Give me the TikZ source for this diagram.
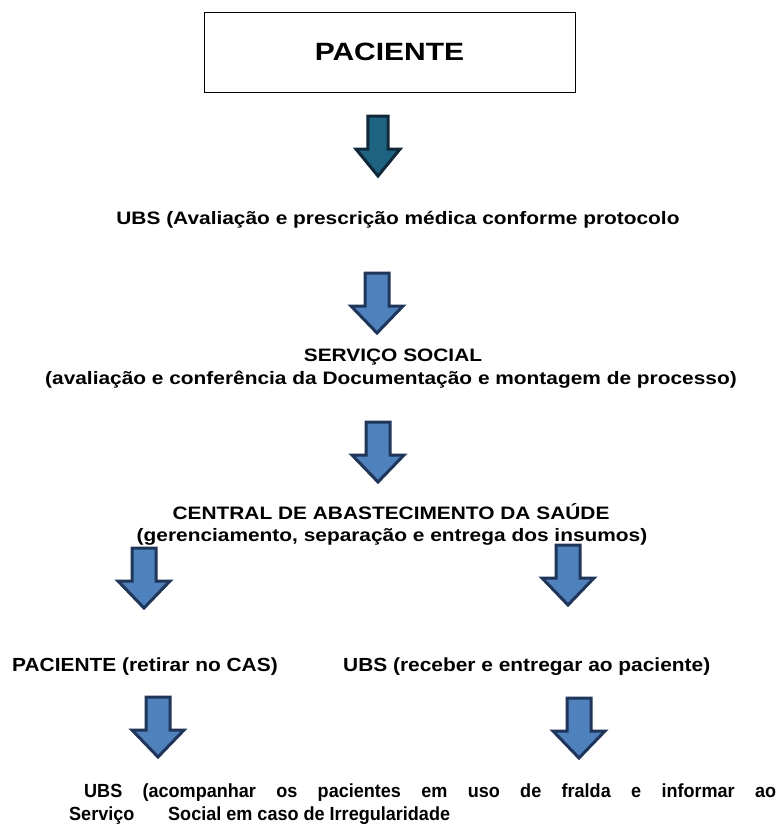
\documentclass[tikz,border=0pt]{standalone}
\usepackage{fontspec}
\setmainfont{Liberation Sans}
\newfontfamily\topf[FakeStretch=1.16]{Liberation Sans Bold}
\newfontfamily\titf[FakeStretch=1.2]{Liberation Sans Bold}
\newfontfamily\midf[FakeStretch=1.1]{Liberation Sans Bold}
\newfontfamily\botf[FakeStretch=0.95]{Liberation Sans Bold}
\definecolor{tealfill}{HTML}{1F6382}
\definecolor{tealline}{HTML}{10283A}
\definecolor{bluefill}{HTML}{4F81BD}
\definecolor{blueline}{HTML}{1F3559}
\tikzset{
  toptext/.style={inner sep=0pt, anchor=base, font=\topf\fontsize{18}{20}\selectfont},
  midtext/.style={inner sep=0pt, anchor=base west, font=\midf\fontsize{19}{21}\selectfont},
  bottext/.style={inner sep=0pt, anchor=base west, font=\botf\fontsize{19}{21}\selectfont},
  dnarrow/.pic={
    \path[pic actions, line width=3pt, line join=miter]
      (-12,0) -- (12,0) -- (12,33) -- (26,33) -- (0,60) -- (-26,33) -- (-12,33) -- cycle;
  },
  bluearrow/.style={fill=bluefill, draw=blueline},
  tealarrow/.style={fill=tealfill, draw=tealline}
}
\begin{document}
\begin{tikzpicture}[x=1pt,y=-1pt]
\useasboundingbox[fill=white] (0,0) rectangle (782,827);
% title
\node[draw=black, line width=0.8pt, minimum width=371pt, minimum height=80pt, inner sep=0pt,
  font=\titf\fontsize{25}{28}\selectfont] (pac) at (389.5,52) {PACIENTE};
% arrows
\pic[tealarrow, xscale=0.85] (a1) at (378,116) {dnarrow};
\pic[bluearrow] (a2) at (377,273) {dnarrow};
\pic[bluearrow] (a3) at (378,422) {dnarrow};
\pic[bluearrow] (a4l) at (144,548) {dnarrow};
\pic[bluearrow] (a4r) at (568,545) {dnarrow};
\pic[bluearrow] (a5l) at (158,697) {dnarrow};
\pic[bluearrow] (a5r) at (579,698) {dnarrow};
% texts
\node[toptext] (ubs1) at (398,224) {UBS (Avaliação e prescrição médica conforme protocolo};
\node[toptext] (ss1) at (393,361) {SERVIÇO SOCIAL};
\node[toptext] (ss2) at (391,384) {(avaliação e conferência da Documentação e montagem de processo)};
\node[toptext] (cas1) at (391,519) {CENTRAL DE ABASTECIMENTO DA SAÚDE};
\node[toptext] (cas2) at (392,541) {(gerenciamento, separação e entrega dos insumos)};
\node[midtext] (pret) at (12,671) {PACIENTE (retirar no CAS)};
\node[midtext] (ubsr) at (343,671) {UBS (receber e entregar ao paciente)};
\node[bottext] (fin1) at (84,797) {\makebox[692pt][s]{UBS (acompanhar os pacientes em uso de fralda e informar ao}};
\node[bottext] (fin2) at (69,820) {\makebox[99pt][l]{Serviço}Social em caso de Irregularidade};
\end{tikzpicture}
\end{document}
